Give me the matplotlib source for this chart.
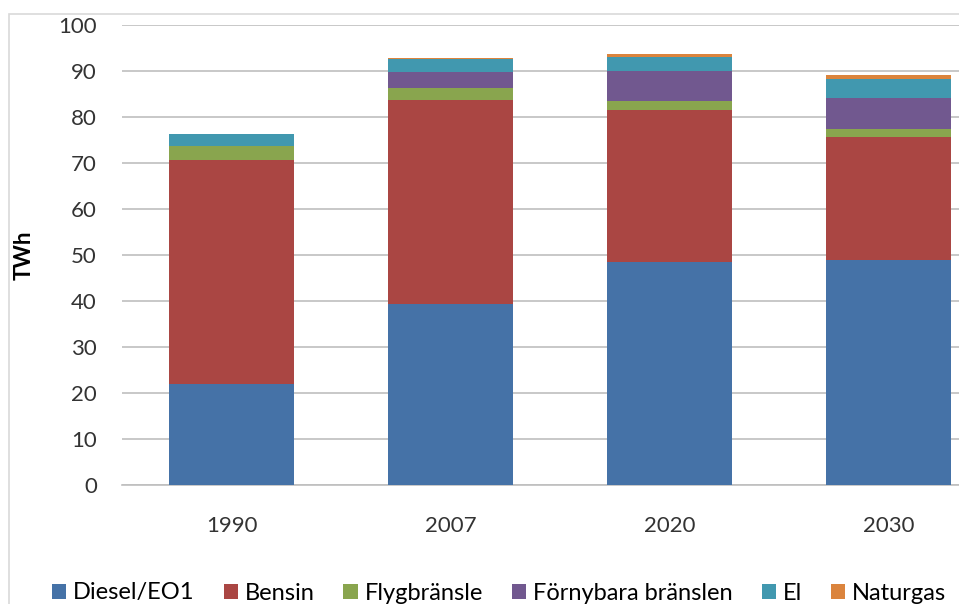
import numpy as np
import matplotlib
matplotlib.use("Agg")
import matplotlib.pyplot as plt
from matplotlib.patches import Rectangle

years = ["1990", "2007", "2020", "2030"]
diesel = [22.0, 39.3, 48.5, 48.9]
bensin = [48.7, 44.4, 33.0, 26.8]
flyg = [3.0, 2.5, 2.0, 1.7]
fornybara = [0.0, 3.6, 6.5, 6.8]
el = [2.6, 2.8, 3.0, 4.0]
naturgas = [0.0, 0.2, 0.7, 0.9]

series = [
    ("Diesel/EO1", diesel, "#4572A7"),
    ("Bensin", bensin, "#AA4643"),
    ("Flygbränsle", flyg, "#89A54E"),
    ("Förnybara bränslen", fornybara, "#71588F"),
    ("El", el, "#4198AF"),
    ("Naturgas", naturgas, "#DB843D"),
]

plt.rcParams['font.family'] = ['Lato', 'DejaVu Sans']

fig = plt.figure(figsize=(9.59, 6.04), dpi=100)
# chart border (only left and top edges visible)
fig.patches.append(Rectangle((9 / 959, -0.1), 1.2, 1 - 14 / 604 + 0.1,
                             transform=fig.transFigure, fill=False,
                             edgecolor="#d9d9d9", lw=1.2))

ax = fig.add_axes([122 / 959, 1 - 485 / 604, 876 / 959, 460 / 604])
x = np.arange(len(years))
bottom = np.zeros(len(years))
handles = []
for name, vals, col in series:
    b = ax.bar(x, vals, width=0.57, bottom=bottom, color=col, label=name, zorder=3)
    handles.append(b)
    bottom += np.array(vals)

ax.set_xlim(-0.5, 3.5)
ax.set_ylim(0, 100)
ax.set_yticks(range(0, 101, 10))
ax.set_xticks(x)
ax.set_xticklabels(years)
ax.yaxis.grid(True, color="#bfbfbf", lw=1.2, zorder=0)
for s in ["top", "right", "left"]:
    ax.spines[s].set_visible(False)
ax.spines["bottom"].set_color("#bfbfbf")
ax.spines["bottom"].set_linewidth(1.2)
ax.tick_params(axis="both", length=0, labelsize=16, colors="#333333")
ax.tick_params(axis="y", pad=18)
ax.tick_params(axis="x", pad=22)
ax.set_ylabel("TWh", fontsize=16, fontweight="bold")
ax.yaxis.set_label_coords(-87 / 876, 0.5)

fig.legend(handles=handles, loc="center left", bbox_to_anchor=(52 / 959, 1 - 593 / 604),
           ncol=6, frameon=False, fontsize=17, handlelength=0.6, handleheight=0.6,
           handletextpad=0.3, columnspacing=1.22, borderaxespad=0, borderpad=0)

fig.savefig("out.png", dpi=100)
